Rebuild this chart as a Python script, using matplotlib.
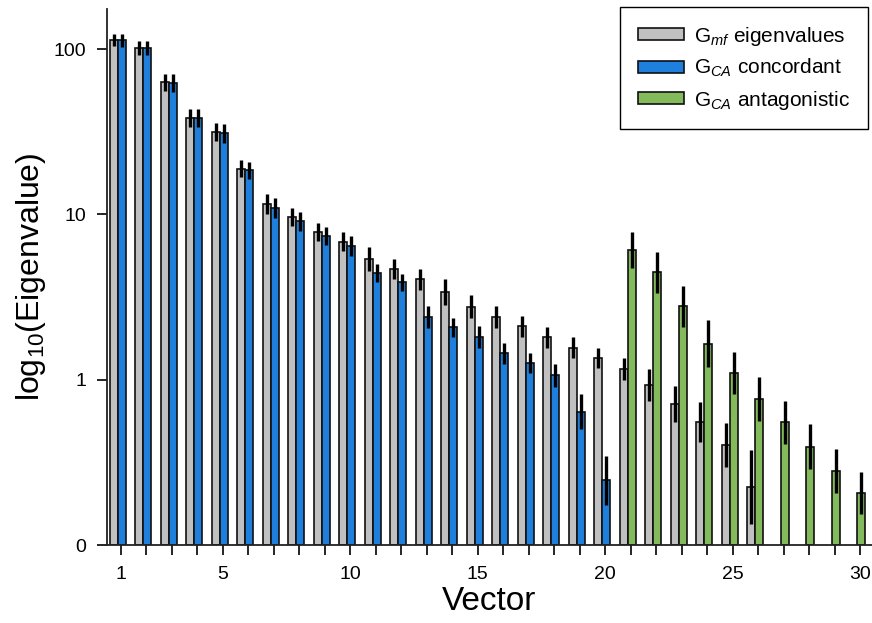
import numpy as np
import matplotlib
matplotlib.use("Agg")
import matplotlib.pyplot as plt
from matplotlib.patches import Patch

plt.rcParams['font.family'] = ['Liberation Sans', 'DejaVu Sans']
plt.rcParams['mathtext.fontset'] = 'custom'
plt.rcParams['mathtext.rm'] = 'Liberation Sans'
plt.rcParams['mathtext.it'] = 'Liberation Sans:italic'
plt.rcParams['mathtext.bf'] = 'Liberation Sans:bold'

# ---- data ----
vectors = list(range(1, 31))
gmf_vectors = list(range(1, 27))
gmf_values = [113.4, 101.8, 62.9, 38.3, 31.5, 18.9, 11.5, 9.65, 7.78, 6.84,
              5.37, 4.66, 4.04, 3.38, 2.77, 2.39, 2.10, 1.80, 1.56, 1.35,
              1.16, 0.924, 0.708, 0.554, 0.405, 0.224]
gmf_logerr = [0.036, 0.042, 0.053, 0.056, 0.055, 0.050, 0.061, 0.055, 0.055, 0.058,
              0.074, 0.061, 0.061, 0.078, 0.067, 0.065, 0.062, 0.065, 0.062, 0.061,
              0.068, 0.096, 0.109, 0.119, 0.133, 0.222]
conc_vectors = list(range(1, 21))
conc_values = [113.0, 101.8, 62.5, 38.2, 31.0, 18.5, 10.9, 9.07, 7.36, 6.40,
               4.43, 3.88, 2.39, 2.07, 1.81, 1.44, 1.26, 1.06, 0.640, 0.247]
conc_logerr = [0.039, 0.042, 0.053, 0.055, 0.058, 0.052, 0.062, 0.056, 0.055, 0.061,
               0.055, 0.050, 0.068, 0.056, 0.065, 0.064, 0.059, 0.072, 0.106, 0.148]
anta_vectors = list(range(21, 31))
anta_values = [6.08, 4.45, 2.78, 1.65, 1.10, 0.764, 0.551, 0.394, 0.281, 0.206]
anta_logerr = [0.111, 0.123, 0.125, 0.141, 0.126, 0.135, 0.132, 0.135, 0.132, 0.128]

xtick_labels = ['1', '', '', '', '5', '', '', '', '', '10', '', '', '', '', '15',
                '', '', '', '', '20', '', '', '', '', '25', '', '', '', '', '30']
ytick_values = [0.1, 1, 10, 100]
ytick_labels = ['0', '1', '10', '100']

labels = [r'G$_{mf}$ eigenvalues', r'G$_{CA}$ concordant', r'G$_{CA}$ antagonistic']
c_gray = '#c0c0c0'
c_blue = '#1f7fdc'
c_green = '#83ba5b'

# ---- figure ----
fig = plt.figure(figsize=(8.72, 6.23), dpi=100)
ax = fig.add_axes([107/872, 78/623, (872-107)/872, (545-9)/623])
ax.set_yscale('log')
BASE = 0.1
W = 0.32
OFF_G = -0.265
OFF_S = 0.055


def draw(xs, vals, lerr, off, color):
    xs = np.asarray(xs, float) + off
    vals = np.asarray(vals, float)
    lerr = np.asarray(lerr, float)
    ax.bar(xs, vals - BASE, bottom=BASE, width=W, color=color,
           edgecolor='#111111', linewidth=1.2, zorder=2)
    lo = vals - vals * 10 ** (-lerr)
    hi = vals * 10 ** lerr - vals
    ax.errorbar(xs, vals, yerr=[lo, hi], fmt='none', ecolor='black',
                elinewidth=2.4, capsize=0, zorder=3)


draw(gmf_vectors, gmf_values, gmf_logerr, OFF_G, c_gray)
draw(conc_vectors, conc_values, conc_logerr, OFF_S, c_blue)
draw(anta_vectors, anta_values, anta_logerr, OFF_S, c_green)

ax.set_xlim(0.47, 30.47)
ax.set_ylim(BASE, 10 ** 2.242)
ax.set_xticks(vectors)
ax.set_xticklabels(xtick_labels)
ax.set_yticks(ytick_values)
ax.set_yticklabels(ytick_labels)
ax.yaxis.set_minor_locator(matplotlib.ticker.NullLocator())
ax.tick_params(axis='both', direction='out', length=7, width=1.2, labelsize=14,
               colors='black')
ax.tick_params(axis='x', pad=8)
ax.tick_params(axis='y', pad=8)
for s in ['top', 'right']:
    ax.spines[s].set_visible(False)
for s in ['left', 'bottom']:
    ax.spines[s].set_linewidth(1.3)
    ax.spines[s].set_color('#222222')

ax.set_xlabel('Vector', fontsize=24, labelpad=2)
ax.set_ylabel(r'log$_{\mathrm{10}}$(Eigenvalue)', fontsize=23, labelpad=4)

handles = [Patch(facecolor=c, edgecolor='#111111', linewidth=1.2)
           for c in (c_gray, c_blue, c_green)]
leg = fig.legend(handles, labels, loc='upper right',
                 bbox_to_anchor=(868/872, 1 - 7/623), bbox_transform=fig.transFigure,
                 fontsize=15, frameon=True, fancybox=False, framealpha=1,
                 edgecolor='black', handlelength=2.2, handleheight=0.5,
                 handletextpad=0.5, labelspacing=0.45, borderpad=0.85,
                 borderaxespad=0)
leg.get_frame().set_linewidth(1.0)

fig.savefig('out.png', dpi=100)
